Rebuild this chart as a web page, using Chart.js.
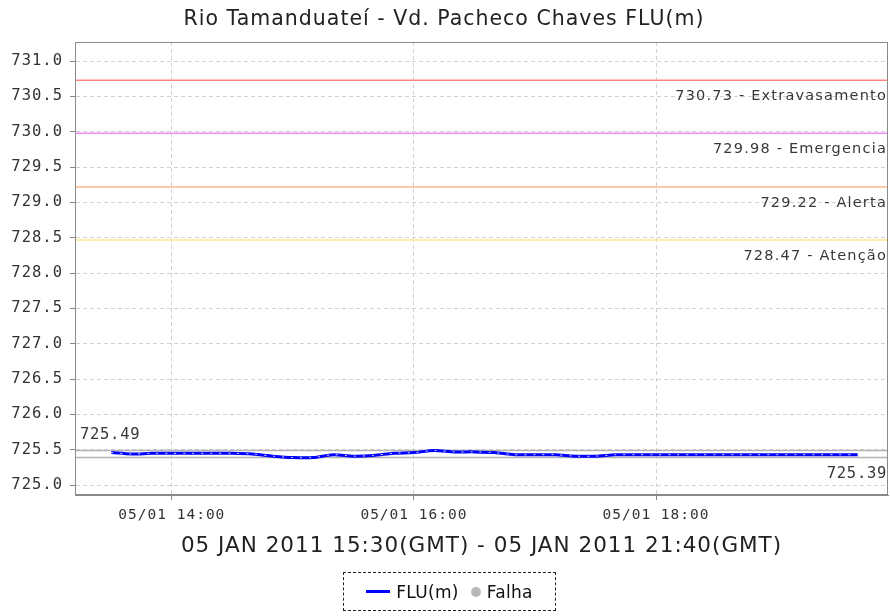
<!DOCTYPE html>
<html>
<head>
<meta charset="utf-8">
<script src="https://cdn.jsdelivr.net/npm/chart.js@4.4.1/dist/chart.umd.min.js"></script>
<style>
html,body{margin:0;padding:0;background:#fff;}
#wrap{position:relative;width:890px;height:616px;}
#legend{position:absolute;left:343px;top:572px;width:211px;height:37px;border:1px dashed #222;
  font-family:"DejaVu Sans";font-size:17px;color:#111;display:flex;align-items:center;justify-content:center;letter-spacing:0.3px;white-space:nowrap;}
#legend .ln{display:inline-block;width:24px;height:3px;background:#0000ff;margin-right:6px;}
#legend .dot{display:inline-block;width:10px;height:10px;border-radius:50%;background:#b8b8b8;margin:0 6px 0 12px;}
</style>
</head>
<body>
<div id="wrap">
<canvas id="c" width="890" height="616"></canvas>
<div id="legend"><span class="ln"></span><span>FLU(m)</span><span class="dot"></span><span>Falha</span></div>
</div>
<script>
// ---- data ----
const chartTitle = "Rio Tamanduateí - Vd. Pacheco Chaves FLU(m)";
const xAxisTitle = "05 JAN 2011 15:30(GMT) - 05 JAN 2011 21:40(GMT)";
const times = ["13:30","13:40","13:50","14:00","14:10","14:20","14:30","14:40","14:50","15:00",
               "15:10","15:20","15:30","15:40","15:50","16:00","16:10","16:20","16:30","16:40",
               "16:50","17:00","17:10","17:20","17:30","17:40","17:50","18:00","18:10","18:20",
               "18:30","18:40","18:50","19:00","19:10","19:20","19:30","19:40"];
const fluValues = [725.46,725.44,725.45,725.45,725.45,725.45,725.45,725.44,725.41,725.39,
                   725.39,725.43,725.41,725.42,725.45,725.46,725.49,725.47,725.47,725.46,
                   725.43,725.43,725.43,725.41,725.41,725.43,725.43,725.43,725.43,725.43,
                   725.43,725.43,725.43,725.43,725.43,725.43,725.43,725.43];
const thresholdValues = [730.73, 729.98, 729.22, 728.47];
const thresholdNames = ["Extravasamento", "Emergencia", "Alerta", "Atenção"];
const thresholdColors = ["#ff8484", "#f08cf0", "#ffb88a", "#ffe98c"];
const statValues = [725.49, 725.39]; // max, min
const yTickValues = [725.0,725.5,726.0,726.5,727.0,727.5,728.0,728.5,729.0,729.5,730.0,730.5,731.0];
const yRange = [724.86, 731.27];
const xTickTimes = ["14:00","16:00","18:00"];
const xRangeTimes = ["13:12","19:55"];
const dayLabel = "05/01";

// ---- helpers ----
const toMin = s => { const [h,m] = s.split(":").map(Number); return h*60+m; };
const fmtMin = v => String(Math.floor(v/60)).padStart(2,"0") + ":" + String(Math.round(v%60)).padStart(2,"0");
const xMin = toMin(xRangeTimes[0]), xMax = toMin(xRangeTimes[1]);
const fluPoints = times.map((t,i) => ({x: toMin(t), y: fluValues[i]}));
const hline = v => [{x: xMin, y: v}, {x: xMax, y: v}];

const datasets = [
  {label:"FLU(m) overlay", data: fluPoints, borderColor:"rgba(255,255,255,0.85)", borderWidth:1, borderDash:[2,7], pointRadius:0, tension:0.3, order:0},
  {label:"FLU(m)", data: fluPoints, borderColor:"#0000ff", borderWidth:3, pointRadius:0, tension:0.3, order:1},
];
thresholdValues.forEach((v,i) => datasets.push({label: thresholdNames[i], data: hline(v), borderColor: thresholdColors[i], borderWidth:1.5, pointRadius:0, order:5}));
statValues.forEach(v => datasets.push({label: "stat", data: hline(v), borderColor:"#b4b4b4", borderWidth:1.5, pointRadius:0, order:6}));

const annot = {
  id: "annot",
  beforeDraw(chart){ chart.ctx.letterSpacing = "1px"; },
  afterDatasetsDraw(chart){
    const {ctx, chartArea:a, scales:{y}} = chart;
    ctx.save();
    ctx.letterSpacing = "1.2px";
    ctx.fillStyle = "#383838";
    ctx.textBaseline = "middle";
    ctx.font = '14.5px "DejaVu Sans"';
    ctx.textAlign = "right";
    thresholdValues.forEach((v,i) => {
      ctx.fillText(v.toFixed(2) + " - " + thresholdNames[i], a.right - 1, y.getPixelForValue(v) + 16);
    });
    ctx.letterSpacing = "0.7px";
    ctx.font = '15.5px "DejaVu Sans Mono"';
    ctx.textAlign = "left";
    ctx.fillText(statValues[0].toFixed(2), a.left + 5, y.getPixelForValue(statValues[0]) - 16);
    ctx.textAlign = "right";
    ctx.fillText(statValues[1].toFixed(2), a.right - 1, y.getPixelForValue(statValues[1]) + 16);
    ctx.restore();
    ctx.save();
    ctx.strokeStyle = "#8a8a8a"; ctx.lineWidth = 1;
    ctx.strokeRect(a.left + 0.5, a.top + 0.5, a.right - a.left - 1, a.bottom - a.top - 1);
    ctx.restore();
  }
};

new Chart(document.getElementById("c"), {
  type: "line",
  data: { datasets },
  plugins: [annot],
  options: {
    responsive: false,
    animation: false,
    devicePixelRatio: 1,
    layout: { padding: {top:0, right:2, bottom:57, left:0} },
    plugins: {
      legend: { display:false },
      tooltip: { enabled:false },
      title: { display:true, text: chartTitle, color:"#222",
               font:{family:"DejaVu Sans", size:20.5, weight:"normal"}, padding:{top:7, bottom:10.4} }
    },
    scales: {
      x: {
        type: "linear", min: xMin, max: xMax,
        afterBuildTicks: s => { s.ticks = xTickTimes.map(t => ({value: toMin(t)})); },
        afterFit: s => { s.height = 64; },
        ticks: { callback: v => dayLabel + " " + fmtMin(v), color:"#333", padding:7, maxRotation:0,
                 font:{family:"DejaVu Sans Mono", size:14.5} },
        grid: { color:"#d2d2d2", tickColor:"#888", tickLength:5, tickBorderDash:[] },
        border: { color:"#888", dash:[4,3] },
        title: { display:true, text: xAxisTitle, color:"#222", padding:0,
                 font:{family:"DejaVu Sans", size:21.5, weight:"normal"} }
      },
      y: {
        type: "linear", min: yRange[0], max: yRange[1],
        afterBuildTicks: s => { s.ticks = yTickValues.map(v => ({value: v})); },
        afterFit: s => { s.width = 75; },
        ticks: { callback: v => Number(v).toFixed(1), color:"#333", padding:7,
                 font:{family:"DejaVu Sans Mono", size:15.5} },
        grid: { color:"#d2d2d2", tickColor:"#888", tickLength:5, tickBorderDash:[] },
        border: { color:"#888", dash:[4,3] }
      }
    }
  }
});
</script>
</body>
</html>
